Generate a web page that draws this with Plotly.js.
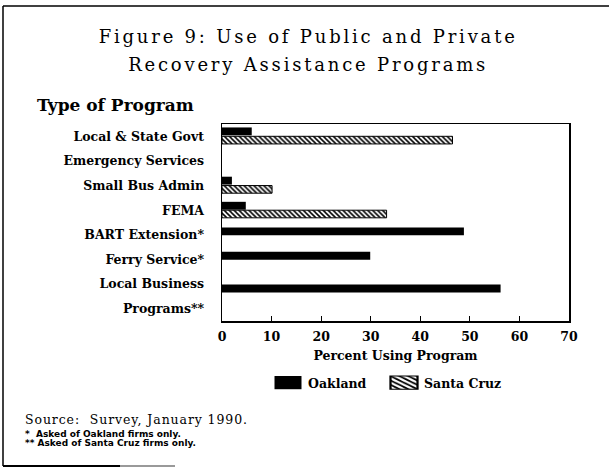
<!DOCTYPE html>
<html>
<head>
<meta charset="utf-8">
<script src="https://cdn.plot.ly/plotly-3.0.1.min.js"></script>
<style>
html,body{margin:0;padding:0;background:#fff;}
#chart{width:609px;height:475px;}
.gtitle{letter-spacing:2.8px;}
</style>
</head>
<body>
<div id="chart"></div>
<script>
// Data
const categories = ["Local & State Govt", "Emergency Services", "Small Bus Admin", "FEMA",
                    "BART Extension*", "Ferry Service*", "Local Business", "Programs**"];
const oakland   = [6, null, 2, 4.8, 48.8, 29.9, 56.2, null];
const santaCruz = [46.5, null, 10.1, 33.2, null, null, null, null];
const xTicks = [0, 10, 20, 30, 40, 50, 60, 70];

const serif = "DejaVu Serif, serif";

const traces = [
  {
    type: "bar", orientation: "h", name: "Oakland",
    y: categories, x: oakland,
    marker: {color: "#000", line: {color: "#000", width: 0}},
    width: 0.32,
    offset: [-0.36, -0.36, -0.36, -0.34, -0.30, -0.31, 0.02, -0.34]
  },
  {
    type: "bar", orientation: "h", name: "Santa Cruz",
    y: categories, x: santaCruz,
    marker: {
      color: "#fff",
      line: {color: "#000", width: 1},
      pattern: {shape: "\\", fgcolor: "#000", bgcolor: "#fff", size: 3.5, solidity: 0.45, fillmode: "replace"}
    },
    width: 0.31,
    offset: 0
  }
];

const P = (px) => (px - 222) / 347;          // x pixel -> paper
const Q = (py) => (321 - py) / 197;          // y pixel -> paper

const layout = {
  width: 609, height: 475,
  margin: {l: 222, r: 40, t: 124, b: 154},
  paper_bgcolor: "#fff", plot_bgcolor: "#fff",
  barmode: "overlay",
  showlegend: true,
  title: {
    text: "Figure 9: Use of Public and Private<br>Recovery Assistance Programs",
    font: {family: serif, size: 18, color: "#000"},
    x: 0.506, xanchor: "center", xref: "container",
    y: 0.909, yanchor: "top", yref: "container"
  },
  xaxis: {
    range: [0, 70], tickvals: xTicks, ticktext: xTicks.map(String),
    ticks: "inside", ticklen: 5, tickwidth: 1.2, tickcolor: "#000",
    showgrid: false, zeroline: false,
    showline: true, linecolor: "#000", linewidth: 1.5, mirror: true,
    ticklabelstandoff: 3,
    tickfont: {family: serif, size: 12.5, color: "#000", weight: "bold"},
    title: {text: "<b>Percent Using Program</b>", font: {family: serif, size: 12.5, color: "#000"}, standoff: 8}
  },
  yaxis: {
    type: "category", categoryarray: categories, categoryorder: "array",
    range: [7.5, -0.5],
    ticks: "", showgrid: false, zeroline: false,
    showline: true, linecolor: "#000", linewidth: 1.5, mirror: true,
    ticklabelstandoff: 14,
    tickfont: {family: serif, size: 12.5, color: "#000", weight: "bold"}
  },
  legend: {
    orientation: "h", x: P(268), xanchor: "left", y: Q(383), yanchor: "middle",
    font: {family: serif, size: 12.5, color: "#000", weight: "bold"},
    itemwidth: 30, traceorder: "normal", bgcolor: "rgba(0,0,0,0)",
    entrywidth: 71, entrywidthmode: "pixels"
  },
  annotations: [
    {text: "<b>Type of Program</b>", xref: "paper", yref: "paper", x: P(35), y: Q(105),
     xanchor: "left", yanchor: "middle", align: "left", showarrow: false,
     font: {family: serif, size: 17, color: "#000"}},
    {text: "Source:&nbsp; Survey, January 1990.", xref: "paper", yref: "paper", x: P(24), y: Q(419.5),
     xanchor: "left", yanchor: "middle", align: "left", showarrow: false, borderpad: 0,
     font: {family: serif, size: 12.5, color: "#000"}},
    {text: "<b>*&nbsp; Asked of Oakland firms only.</b>", xref: "paper", yref: "paper", x: P(24), y: Q(433.5),
     xanchor: "left", yanchor: "middle", align: "left", showarrow: false, borderpad: 0,
     font: {family: "DejaVu Sans, sans-serif", size: 9, color: "#000"}},
    {text: "<b>** Asked of Santa Cruz firms only.</b>", xref: "paper", yref: "paper", x: P(24), y: Q(443),
     xanchor: "left", yanchor: "middle", align: "left", showarrow: false, borderpad: 0,
     font: {family: "DejaVu Sans, sans-serif", size: 9, color: "#000"}}
  ],
  shapes: [
    {type: "line", xref: "paper", yref: "paper", x0: P(3), x1: P(609), y0: Q(6), y1: Q(6),
     line: {color: "#000", width: 1.5}},
    {type: "line", xref: "paper", yref: "paper", x0: P(3), x1: P(3), y0: Q(6), y1: Q(466),
     line: {color: "#000", width: 1.5}},
    {type: "line", xref: "paper", yref: "paper", x0: P(3), x1: P(120), y0: Q(466), y1: Q(466),
     line: {color: "#000", width: 2}},
    {type: "line", xref: "paper", yref: "paper", x0: P(120), x1: P(175), y0: Q(466), y1: Q(466),
     line: {color: "#777", width: 1.5}}
  ]
};

Plotly.newPlot("chart", traces, layout, {displayModeBar: false, staticPlot: true}).then(gd => {
  // widen legend swatches to match the reference's wide rectangles
  gd.querySelectorAll(".legend .legendpoints path").forEach(p => {
    const t = p.getAttribute("transform") || "";
    p.setAttribute("transform", t + " scale(2.25,1.1)");
  });
  // do not clip the last legend label
  gd.querySelectorAll(".legend [clip-path]").forEach(e => e.removeAttribute("clip-path"));
  // typewriter-like spacing on the source line
  gd.querySelectorAll(".annotation-text").forEach(t => {
    if (t.textContent.indexOf("Source") === 0) t.style.letterSpacing = "0.9px";
  });
  // wider line spacing between the two title lines, as in the reference
  const lines = gd.querySelectorAll(".gtitle tspan.line");
  if (lines.length > 1) lines[1].setAttribute("dy", "1.55em");
});
</script>
</body>
</html>
